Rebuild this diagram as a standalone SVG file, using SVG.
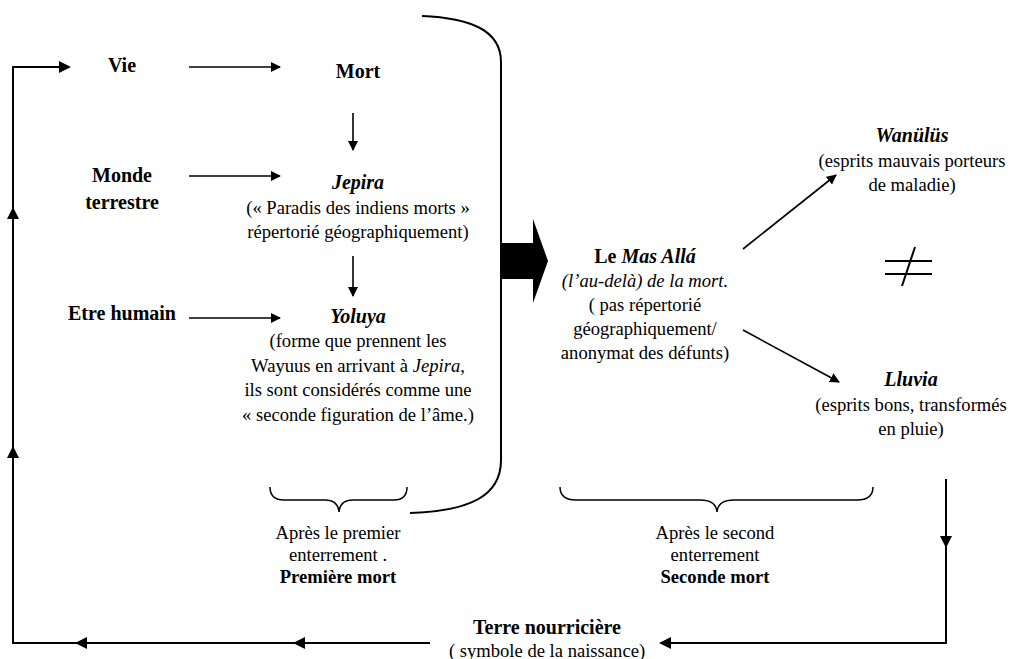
<svg xmlns="http://www.w3.org/2000/svg" width="1014" height="659" viewBox="0 0 1014 659">
<style>
text{font-family:"Liberation Serif","Times New Roman","DejaVu Serif",serif;fill:#000;text-anchor:middle}
.t{font-size:20px;font-weight:bold}
.ti{font-size:20px;font-weight:bold;font-style:italic}
.b{font-size:18.6px}
.i{font-style:italic}
.ln{fill:none;stroke:#000;stroke-width:2}
.ar{fill:none;stroke:#000;stroke-width:1.6;marker-end:url(#ah)}
.hd{fill:#000}
</style>
<defs>
<marker id="ah" viewBox="0 0 10 10" refX="9" refY="5" markerWidth="10" markerHeight="10" markerUnits="userSpaceOnUse" orient="auto">
<path d="M0,0 L10,5 L0,10 z" fill="#000"/>
</marker>
</defs>
<rect width="1014" height="659" fill="#fff"/>
<g id="connectors">
<path class="ln" d="M430,643 L13,643 L13,67 L60,67"/>
<path class="hd" d="M71,67 L59,61 L59,73 z"/>
<path class="hd" d="M13,207 L7,219 L19,219 z"/>
<path class="hd" d="M13,446 L7,458 L19,458 z"/>
<path class="hd" d="M75,643 L87,637 L87,649 z"/>
<path class="hd" d="M293,643 L305,637 L305,649 z"/>
<path class="ln" d="M946,479 L946,643 L670,643"/>
<path class="hd" d="M946,548 L940,536 L952,536 z"/>
<path class="hd" d="M659,643 L671,637 L671,649 z"/>
<path class="ar" d="M189,67 L280,67"/>
<path class="ar" d="M189,176 L280,176"/>
<path class="ar" d="M189,318 L280,318"/>
<path class="ar" d="M353,113 L353,150"/>
<path class="ar" d="M353,256 L353,296"/>
<path class="ar" d="M743,249 L836,175"/>
<path class="ar" d="M743,330 L839,382"/>
<path class="ln" d="M422,16 C470,18 501,30 501,62 L501,460 C501,496 470,511 410,513"/>
<path class="hd" d="M502,243 L533,243 L533,219 L548,261 L533,303 L533,279 L502,279 z"/>
<path class="ln" style="stroke-width:1.5" d="M270,487 Q270,500 284,500 L325,500 Q338,500 339,512 Q340,500 353,500 L394,500 Q407,500 407,487"/>
<path class="ln" style="stroke-width:1.5" d="M560,487 Q560,500 576,500 L700,500 Q716,500 717,512 Q718,500 734,500 L857,500 Q873,500 873,487"/>
<path class="ln" d="M885,261 L932,261 M885,274 L932,274 M915,247 L902,286"/>
</g>
<g id="vie"><text class="t" x="122" y="72">Vie</text></g>
<g id="monde"><text class="t" x="122" y="182">Monde</text><text class="t" x="122" y="209">terrestre</text></g>
<g id="etre"><text class="t" x="122" y="320">Etre humain</text></g>
<g id="mort"><text class="t" x="358" y="78">Mort</text></g>
<g id="jepira">
<text class="ti" x="358" y="189">Jepira</text>
<text class="b" x="358" y="214">(« Paradis des indiens morts »</text>
<text class="b" x="358" y="238">répertorié géographiquement)</text>
</g>
<g id="yoluya">
<text class="ti" x="358" y="323">Yoluya</text>
<text class="b" x="358" y="347">(forme que prennent les</text>
<text class="b" x="358" y="372">Wayuus en arrivant à <tspan class="i">Jepira</tspan>,</text>
<text class="b" x="358" y="396">ils sont considérés comme une</text>
<text class="b" x="358" y="421">« seconde figuration de l’âme.)</text>
</g>
<g id="masalla">
<text class="t" x="645" y="263">Le <tspan font-style="italic">Mas Allá</tspan></text>
<text class="b i" x="645" y="287">(l’au-delà) de la mort.</text>
<text class="b" x="645" y="311">( pas répertorié</text>
<text class="b" x="645" y="335">géographiquement/</text>
<text class="b" x="645" y="359">anonymat des défunts)</text>
</g>
<g id="wanulus">
<text class="ti" x="912" y="142">Wanülüs</text>
<text class="b" x="912" y="167">(esprits mauvais porteurs</text>
<text class="b" x="912" y="191">de maladie)</text>
</g>
<g id="lluvia">
<text class="ti" x="911" y="386">Lluvia</text>
<text class="b" x="911" y="411">(esprits bons, transformés</text>
<text class="b" x="911" y="435">en pluie)</text>
</g>
<g id="premiere">
<text class="b" x="338" y="539">Après le premier</text>
<text class="b" x="338" y="561">enterrement .</text>
<text class="b" x="338" y="583" font-weight="bold">Première mort</text>
</g>
<g id="seconde">
<text class="b" x="715" y="539">Après le second</text>
<text class="b" x="715" y="561">enterrement</text>
<text class="b" x="715" y="583" font-weight="bold">Seconde mort</text>
</g>
<g id="terre">
<text class="t" x="547" y="634">Terre nourricière</text>
<text class="b" x="547" y="657">( symbole de la naissance)</text>
</g>
</svg>
